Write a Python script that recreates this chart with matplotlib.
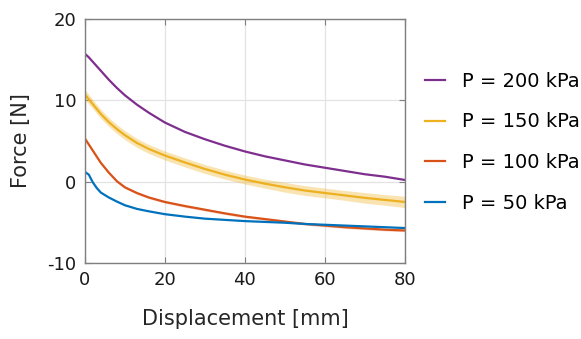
import matplotlib
matplotlib.use("Agg")
import matplotlib.pyplot as plt
import numpy as np

# displacement samples [mm]
disp = [0, 1, 2, 3, 4, 6, 8, 10, 13, 16, 20, 25, 30, 35, 40, 45, 50, 55, 60, 65, 70, 75, 80]

# mean force [N]
f200 = [15.7, 15.25, 14.7, 14.15, 13.6, 12.5, 11.5, 10.6, 9.45, 8.45, 7.25, 6.1, 5.2, 4.4, 3.7, 3.1, 2.6, 2.1, 1.7, 1.3, 0.9, 0.6, 0.2]
f150 = [10.7, 10.1, 9.5, 8.9, 8.3, 7.3, 6.45, 5.7, 4.75, 4.0, 3.2, 2.35, 1.55, 0.85, 0.25, -0.25, -0.7, -1.1, -1.4, -1.7, -2.0, -2.25, -2.5]
f100 = [5.3, 4.55, 3.8, 3.05, 2.3, 1.1, 0.05, -0.7, -1.4, -1.95, -2.5, -3.0, -3.45, -3.9, -4.3, -4.6, -4.9, -5.2, -5.4, -5.6, -5.75, -5.9, -6.0]
f50 = [1.2, 0.85, -0.1, -0.8, -1.35, -1.95, -2.45, -2.9, -3.35, -3.65, -4.0, -4.3, -4.55, -4.7, -4.85, -4.95, -5.05, -5.2, -5.3, -5.4, -5.5, -5.6, -5.7]

# spread (half width of shaded band) [N]
s150 = [0.6, 0.6, 0.55, 0.55, 0.55, 0.55, 0.55, 0.55, 0.55, 0.55, 0.55, 0.55, 0.55, 0.55, 0.55, 0.55, 0.6, 0.6, 0.6, 0.6, 0.65, 0.65, 0.7]
s100 = [0.15] * len(disp)

labels = ["P = 200 kPa", "P = 150 kPa", "P = 100 kPa", "P = 50 kPa"]
colors = ["#7E2F8E", "#EDB120", "#D95319", "#0072BD"]

plt.rcParams['font.family'] = ['DejaVu Sans']
plt.rcParams['axes.unicode_minus'] = False

fig = plt.figure(figsize=(5.81, 3.39), dpi=100)
ax = fig.add_axes([0.146, 0.224, 0.551, 0.721])

x = np.array(disp)
ax.fill_between(x, np.array(f150) - np.array(s150), np.array(f150) + np.array(s150),
                color=colors[1], alpha=0.35, lw=0)
ax.fill_between(x, np.array(f100) - np.array(s100), np.array(f100) + np.array(s100),
                color=colors[2], alpha=0.25, lw=0)

series = [f200, f150, f100, f50]
for y, c, lab in zip(series, colors, labels):
    ax.plot(x, y, color=c, lw=1.6, label=lab)

ax.set_xlim(0, 80)
ax.set_ylim(-10, 20)
ax.set_xticks([0, 20, 40, 60, 80])
ax.set_yticks([-10, 0, 10, 20])
ax.grid(True, color="#e3e3e3", lw=0.9)
ax.set_axisbelow(True)
for sp in ax.spines.values():
    sp.set_color("#7f7f7f")
    sp.set_linewidth(1.0)
ax.tick_params(direction="in", top=True, right=True, length=4, color="#7f7f7f",
               labelsize=13, labelcolor="#1a1a1a", pad=6)
ax.set_xlabel("Displacement [mm]", fontsize=15, color="#262626", labelpad=14)
ax.set_ylabel("Force [N]", fontsize=15, color="#262626", labelpad=12)

ax.legend(loc="upper left", bbox_to_anchor=(1.037, 0.815), frameon=False, fontsize=14,
          handlelength=1.05, handletextpad=0.9, labelspacing=1.12, borderaxespad=0)

fig.savefig("out.png", dpi=100)
